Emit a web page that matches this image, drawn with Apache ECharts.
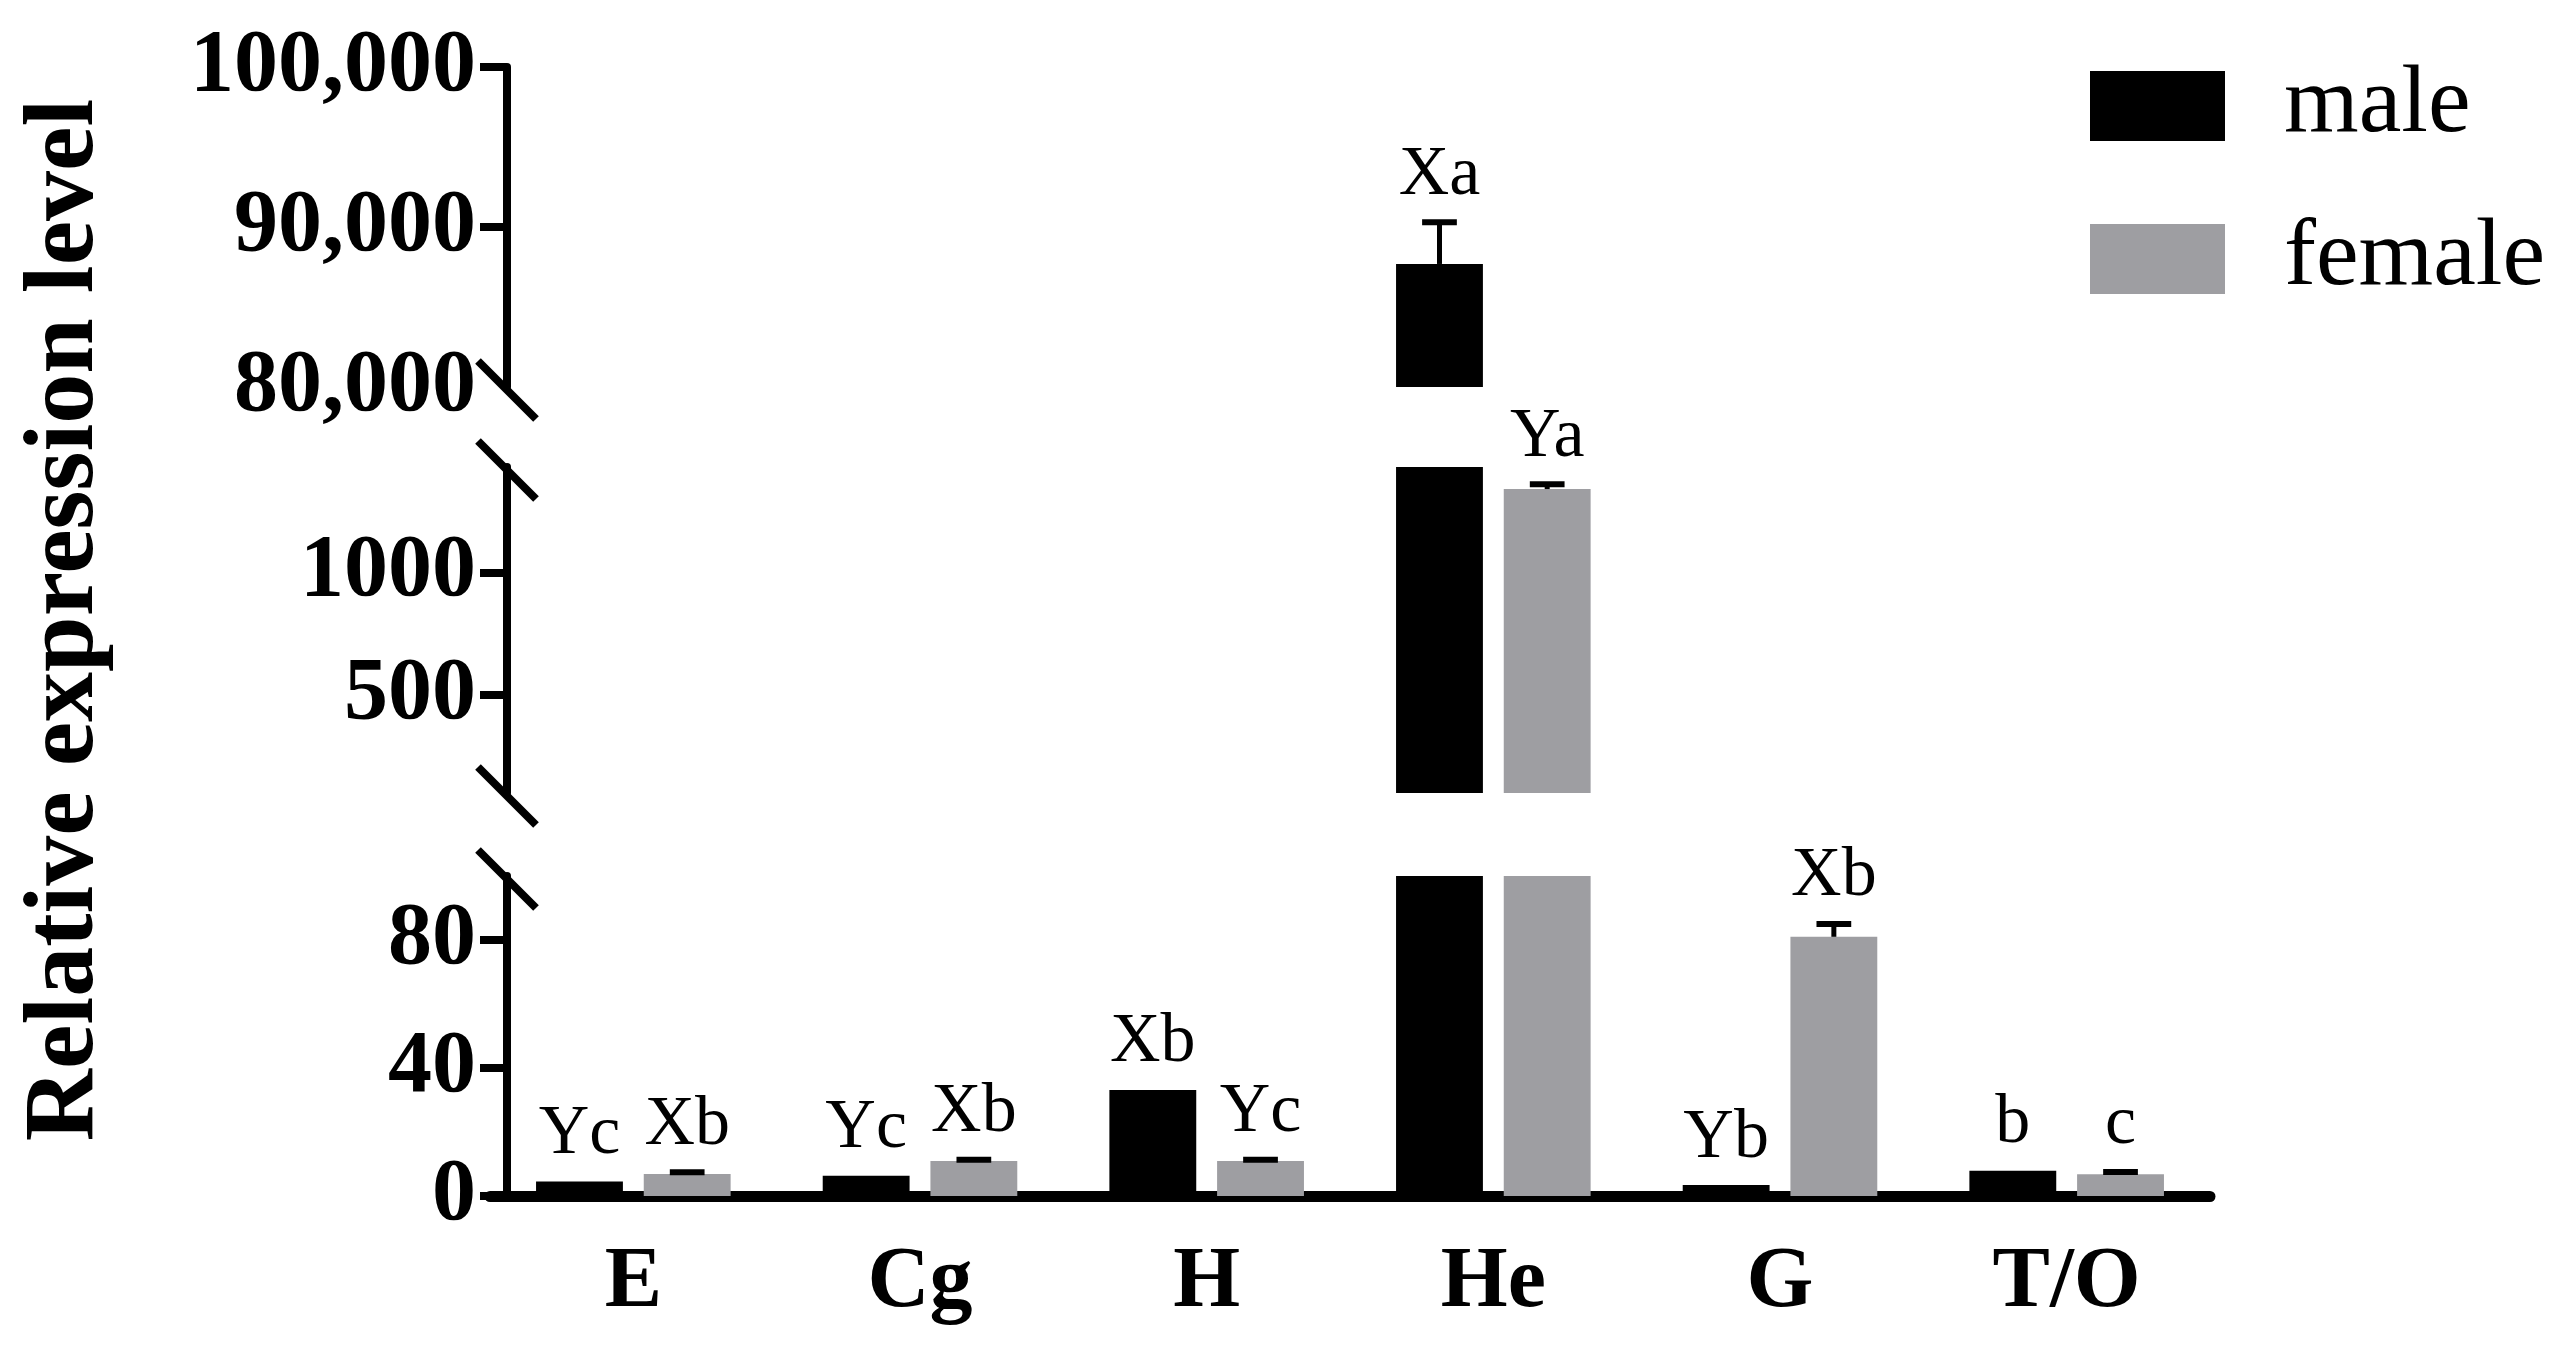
<!DOCTYPE html>
<html>
<head>
<meta charset="utf-8">
<script src="https://cdn.jsdelivr.net/npm/echarts@6/dist/echarts.min.js"></script>
<style>
html, body { margin: 0; padding: 0; background: #fff; }
#main { width: 2574px; height: 1348px; }
</style>
</head>
<body>
<div id="main"></div>
<script>
var categories = ['E', 'Cg', 'H', 'He', 'G', 'T/O'];
var maleMean = [4.5, 6.3, 33.1, 87690, 3.4, 7.9];
var maleErr = [0, 0, 0, 2600, 0, 0];
var femaleMean = [6.9, 10.9, 10.9, 1340, 81, 6.8];
var femaleErr = [0.5, 0.4, 0.4, 20, 4, 0.7];
var maleLetters = ['Yc', 'Yc', 'Xb', 'Xa', 'Yb', 'b'];
var femaleLetters = ['Xb', 'Xb', 'Yc', 'Ya', 'Xb', 'c'];

// three stacked pieces of the broken y axis
var segMin = [80000, 100, 0];
var segMax = [100000, 1430, 100];
var segLabels = [[80000, 90000, 100000], [500, 1000], [0, 40, 80]];
var segTicks = [[90000, 100000], [500, 1000], [0, 40, 80]];

var FONT = 'Liberation Serif';
var gridLeft = 490, gridRight = 364, axisX = 507;
var segTop = [67, 467, 876];
var segHeight = [320, 326, 320];
var barW = 0.303, barGapRatio = 0.24;

var myChart = echarts.init(document.getElementById('main'));

var grids = [], xAxes = [], yAxes = [], series = [];

function errItems(g, means, errs, letters, side) {
    var out = [];
    for (var i = 0; i < means.length; i++) {
        if (means[i] >= segMin[g] && means[i] <= segMax[g]) {
            out.push([i, means[i], errs[i], letters[i], side]);
        }
    }
    return out;
}

function renderErr(params, api) {
    var cat = api.value(0), val = api.value(1), err = api.value(2), side = api.value(4);
    var band = api.size([1, 0])[0];
    var x = api.coord([cat, val])[0] + side * band * (barW + barW * barGapRatio) / 2;
    var yVal = api.coord([cat, val])[1];
    var yTop = api.coord([cat, val + err])[1];
    var half = band * barW * 0.2;
    var text = series[params.seriesIndex].data[params.dataIndex][3];
    var children = [];
    if (err > 0) {
        children.push({ type: 'line', shape: { x1: x, y1: yVal, x2: x, y2: yTop }, style: { stroke: '#000', lineWidth: 5 } });
        children.push({ type: 'line', shape: { x1: x - half, y1: yTop, x2: x + half, y2: yTop }, style: { stroke: '#000', lineWidth: 6 } });
    }
    children.push({
        type: 'text',
        style: { text: text, x: x, y: yTop - 12, align: 'center', verticalAlign: 'bottom', fontFamily: FONT, fontSize: 70, fill: '#000' }
    });
    return { type: 'group', children: children };
}

for (var g = 0; g < 3; g++) {
    grids.push({ left: gridLeft, right: gridRight, top: segTop[g], height: segHeight[g] });
    xAxes.push({
        type: 'category',
        gridIndex: g,
        data: categories,
        show: g === 2,
        axisLine: { lineStyle: { color: '#000', width: 11 } },
        axisTick: { alignWithLabel: true, length: 27, lineStyle: { color: '#000', width: 8 } },
        axisLabel: { color: '#000', fontFamily: FONT, fontWeight: 'bold', fontSize: 86, margin: 45 }
    });
    yAxes.push({
        type: 'value',
        gridIndex: g,
        min: segMin[g],
        max: segMax[g],
        offset: gridLeft - axisX,
        splitLine: { show: false },
        axisLine: { show: true, lineStyle: { color: '#000', width: 8 } },
        axisTick: { show: true, length: 27, customValues: segTicks[g], lineStyle: { color: '#000', width: 8 } },
        axisLabel: {
            customValues: segLabels[g],
            color: '#000', fontFamily: FONT, fontWeight: 'bold', fontSize: 88, margin: 31,
            formatter: function (v) { return v >= 10000 ? echarts.format.addCommas(v) : String(v); }
        }
    });
    series.push({
        name: 'male', type: 'bar', xAxisIndex: g, yAxisIndex: g,
        data: maleMean, barWidth: (barW * 100) + '%', barGap: (barGapRatio * 100) + '%',
        itemStyle: { color: '#000' }, clip: true
    });
    series.push({
        name: 'female', type: 'bar', xAxisIndex: g, yAxisIndex: g,
        data: femaleMean, barWidth: (barW * 100) + '%', barGap: (barGapRatio * 100) + '%',
        itemStyle: { color: '#9e9ea2' }, clip: true
    });
    series.push({
        type: 'custom', xAxisIndex: g, yAxisIndex: g, z: 5,
        data: errItems(g, maleMean, maleErr, maleLetters, -1).concat(errItems(g, femaleMean, femaleErr, femaleLetters, 1)),
        renderItem: renderErr
    });
}

// break marks at the ends of the axis pieces
var breaks = [];
var ends = [segTop[0] + segHeight[0], segTop[1], segTop[1] + segHeight[1], segTop[2]];
ends.forEach(function (y) {
    breaks.push({
        type: 'line',
        shape: { x1: axisX - 29, y1: y - 29 + 3, x2: axisX + 29, y2: y + 29 + 3 },
        style: { stroke: '#000', lineWidth: 8 }
    });
});

option = {
    backgroundColor: '#fff',
    animation: false,
    legend: {
        data: ['male', 'female'],
        orient: 'vertical',
        left: 2085,
        top: 53,
        itemWidth: 135,
        itemHeight: 70,
        itemGap: 57,
        icon: 'rect',
        selectedMode: false,
        textStyle: { color: '#000', fontFamily: FONT, fontSize: 96, padding: [0, 0, 0, 54] }
    },
    grid: grids,
    xAxis: xAxes,
    yAxis: yAxes,
    graphic: breaks.concat([{
        type: 'text',
        x: 66, y: 620,
        rotation: Math.PI / 2,
        style: {
            text: 'Relative expression level',
            fontFamily: FONT, fontWeight: 'bold', fontSize: 100,
            align: 'center', verticalAlign: 'middle', fill: '#000'
        }
    }]),
    series: series
};

myChart.setOption(option);
</script>
</body>
</html>
